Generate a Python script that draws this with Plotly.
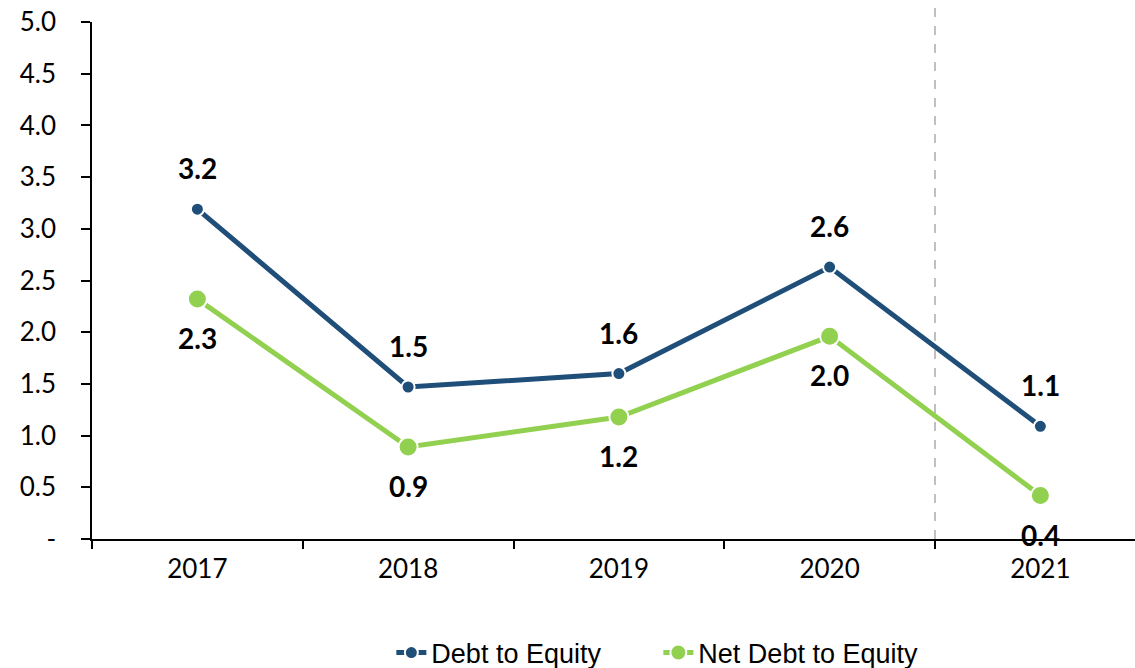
import plotly.graph_objects as go

years = ["2017", "2018", "2019", "2020", "2021"]
debt_to_equity = [3.19, 1.47, 1.60, 2.63, 1.09]
net_debt_to_equity = [2.32, 0.89, 1.18, 1.96, 0.42]
debt_labels = ["3.2", "1.5", "1.6", "2.6", "1.1"]
net_labels = ["2.3", "0.9", "1.2", "2.0", "0.4"]
y_tickvals = [0, 0.5, 1.0, 1.5, 2.0, 2.5, 3.0, 3.5, 4.0, 4.5, 5.0]
y_ticktext = ["-", "0.5", "1.0", "1.5", "2.0", "2.5", "3.0", "3.5", "4.0", "4.5", "5.0"]

BLUE = "#1F4E79"
GREEN = "#92D050"
TICK_FONT = "Lato, Carlito, Calibri, sans-serif"

fig = go.Figure()
fig.add_trace(go.Scatter(
    x=years, y=debt_to_equity, name="Debt to Equity", mode="lines+markers",
    line=dict(color=BLUE, width=5),
    marker=dict(size=13, color=BLUE, line=dict(color="white", width=2)),
))
fig.add_trace(go.Scatter(
    x=years, y=net_debt_to_equity, name="Net Debt to Equity", mode="lines+markers",
    line=dict(color=GREEN, width=5),
    marker=dict(size=19, color=GREEN, line=dict(color="white", width=2)),
))

annotations = []
for i, (y, t) in enumerate(zip(debt_to_equity, debt_labels)):
    annotations.append(dict(x=i, xref="x", y=y, yref="y", text="<b>" + t + "</b>",
                            showarrow=False, yshift=41,
                            font=dict(family=TICK_FONT, size=28, color="black")))
for i, (y, t) in enumerate(zip(net_debt_to_equity, net_labels)):
    annotations.append(dict(x=i, xref="x", y=y, yref="y", text="<b>" + t + "</b>",
                            showarrow=False, yshift=-39,
                            font=dict(family=TICK_FONT, size=28, color="black")))

fig.update_layout(
    width=1135, height=668,
    margin=dict(l=92, r=0, t=22, b=129, autoexpand=False),
    paper_bgcolor="white", plot_bgcolor="white",
    annotations=annotations,
    showlegend=True,
    legend=dict(orientation="h", x=0.543, xanchor="center", y=-0.2205, yanchor="middle",
                font=dict(family="Liberation Sans, Arial, sans-serif", size=27, color="black"),
                entrywidth=222, entrywidthmode="pixels"),
    shapes=[dict(type="line", xref="x", yref="paper", x0=3.5, x1=3.5, y0=0, y1=1.0426,
                 line=dict(color="#808080", width=1, dash="dash"))],
)
fig.update_xaxes(
    type="category", range=[-0.5, 4.449],
    showline=True, linecolor="black", linewidth=1.5,
    ticks="outside", ticklen=8, tickcolor="black", tickwidth=1.5, tickson="boundaries",
    ticklabelstandoff=6, automargin=False,
    showgrid=False, zeroline=False,
    tickfont=dict(family=TICK_FONT, size=26, color="black"),
)
fig.update_yaxes(
    range=[0, 5], tickvals=y_tickvals, ticktext=y_ticktext,
    showline=True, linecolor="black", linewidth=1.5,
    ticks="outside", ticklen=9, tickcolor="black", tickwidth=1.5,
    ticklabelstandoff=20, ticklabeloverflow="allow", automargin=False,
    showgrid=False, zeroline=False,
    tickfont=dict(family=TICK_FONT, size=26, color="black"),
)

page_fix = (
    "document.documentElement.style.overflow='hidden';"
    "document.body.style.margin='0px';"
    "document.body.style.overflow='hidden';"
)
fig.write_html("out.html", config={"displayModeBar": False}, post_script=page_fix)
